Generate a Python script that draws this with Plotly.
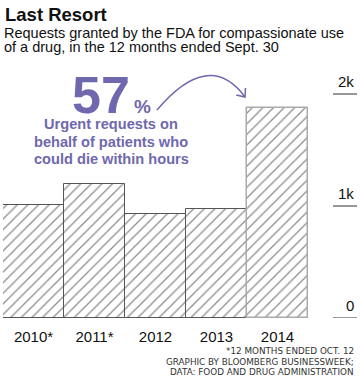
import plotly.graph_objects as go

# ---- data ----
years = ["2010*", "2011*", "2012", "2013", "2014"]
requests = [1010, 1196, 930, 970, 1878]
tick_vals = [0, 1000, 2000]
tick_text = ["0", "1k", "2k"]

title = "<b>Last Resort</b>"
subtitle = ["Requests granted by the FDA for compassionate use",
            "of a drug, in the 12 months ended Sept. 30"]
big_stat = "57"
stat_lines = ["Urgent requests on", "behalf of patients who", "could die within hours"]
footnotes = ["*12 MONTHS ENDED OCT. 12",
             "GRAPHIC BY BLOOMBERG BUSINESSWEEK;",
             "DATA: FOOD AND DRUG ADMINISTRATION"]

W, H = 360, 388
L, R, T, B = 3, 52, 60, 70
PW, PH = W - L - R, H - T - B
YMAX = PH / 112 * 1000
PURPLE = "#6f68ae"
FONT = "Liberation Sans, Arial, sans-serif"


def px(x):
    return (x - L) / PW


def py(y):
    return (H - B - y) / PH


line_colors = ["#555555"] * 4 + ["#aaaaaa"]
line_widths = [1, 1, 1, 1, 1.5]

fig = go.Figure(go.Bar(
    x=years, y=requests,
    marker=dict(color="white",
                line=dict(color=line_colors, width=line_widths),
                pattern=dict(shape="/", size=7.5, solidity=0.17,
                             fgcolor="#1a1a1a", bgcolor="white")),
    hoverinfo="skip",
))

fig.update_layout(
    width=W, height=H,
    margin=dict(l=L, r=R, t=T, b=B),
    paper_bgcolor="white", plot_bgcolor="white",
    bargap=0, showlegend=False,
    font=dict(family=FONT, color="#111111"),
    xaxis=dict(showgrid=False, showline=False, zeroline=False, ticks="",
               tickfont=dict(size=15, color="#111111"), ticklabelstandoff=8),
    yaxis=dict(range=[0, YMAX], showgrid=False, showline=False, zeroline=False,
               showticklabels=False, ticks=""),
)

ann = []
shapes = []
# titles
ann.append(dict(text=title, x=px(3), y=py(15), xref="paper", yref="paper",
                xanchor="left", yanchor="middle", showarrow=False,
                font=dict(size=18.5, color="#111111")))
for i, s in enumerate(subtitle):
    ann.append(dict(text=s, x=px(3), y=py(33 + 14 * i), xref="paper", yref="paper",
                    xanchor="left", yanchor="middle", showarrow=False,
                    font=dict(size=14.5, color="#111111"), borderpad=0))

# right-side y tick labels with short rules
for v, t in zip(tick_vals, tick_text):
    shapes.append(dict(type="line", xref="paper", yref="y",
                       x0=px(333), x1=px(357), y0=v, y1=v,
                       line=dict(color="#333333", width=1)))
    ann.append(dict(text=t, x=px(356), y=v, xref="paper", yref="y",
                    xanchor="right", yanchor="bottom", showarrow=False,
                    font=dict(size=15, color="#111111"), yshift=2))

# stat annotation
ann.append(dict(text="<b>" + big_stat + "</b>", x=px(131), y=py(112), xref="paper",
                yref="paper", xanchor="right", yanchor="bottom", showarrow=False,
                font=dict(size=52, color=PURPLE, family="Liberation Sans, Arial"),
                yshift=-13, borderpad=0))
ann.append(dict(text="<b>%</b>", x=px(132), y=py(112), xref="paper", yref="paper",
                xanchor="left", yanchor="bottom", showarrow=False,
                font=dict(size=19, color=PURPLE), yshift=-7))
for i, s in enumerate(stat_lines):
    ann.append(dict(text="<b>" + s + "</b>", x=px(111), y=py(124 + 17.5 * i),
                    xref="paper", yref="paper", xanchor="center", yanchor="middle",
                    showarrow=False, font=dict(size=14.6, color=PURPLE), borderpad=0))

# curved arrow
p0, c, p2 = (157, 110), (209, 48.5), (245, 97)
shapes.append(dict(type="path", xref="paper", yref="paper",
                   path=f"M {px(p0[0])},{py(p0[1])} Q {px(c[0])},{py(c[1])} {px(p2[0])},{py(p2[1])}",
                   line=dict(color=PURPLE, width=1.5)))
shapes.append(dict(type="path", xref="paper", yref="paper",
                   path=f"M {px(236.2)},{py(94.9)} L {px(245)},{py(97)} L {px(245.5)},{py(88)}",
                   line=dict(color=PURPLE, width=1.5)))

# footnotes
for i, s in enumerate(footnotes):
    ann.append(dict(text=s, x=px(355), y=py(351 + 10.5 * i), xref="paper", yref="paper",
                    xanchor="right", yanchor="middle", showarrow=False, borderpad=0,
                    font=dict(size=8.8, color="#333333", family="DejaVu Sans")))

fig.update_layout(annotations=ann, shapes=shapes)
fig.write_html("out.html", config={"displayModeBar": False},
               post_script="document.body.style.margin='0';document.body.style.overflow='hidden';")
